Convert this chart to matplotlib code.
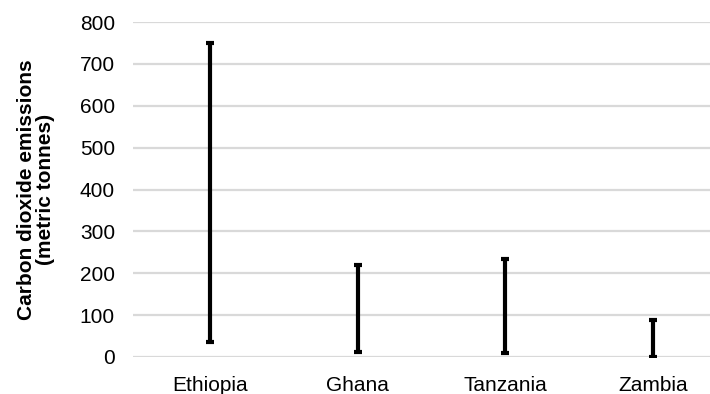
import matplotlib
matplotlib.use("Agg")
import matplotlib.pyplot as plt
import numpy as np

plt.rcParams['font.family'] = ['Liberation Sans', 'DejaVu Sans']

countries = ["Ethiopia", "Ghana", "Tanzania", "Zambia"]
emissions_min = [37, 11, 10, 1]
emissions_max = [750, 220, 233, 88]
y_ticks = [0, 100, 200, 300, 400, 500, 600, 700, 800]

W, H = 710, 394
fig = plt.figure(figsize=(W / 100, H / 100), dpi=100)
ax = fig.add_axes([133 / W, 1 - 357 / H, (W - 133) / W, 335 / H])

x = np.arange(len(countries))
lows = np.array(emissions_min, dtype=float)
highs = np.array(emissions_max, dtype=float)

ax.errorbar(x, lows, yerr=[np.zeros_like(lows), highs - lows], fmt='none',
            ecolor='black', elinewidth=3.0, capsize=3.2, capthick=3, zorder=3)

ax.set_ylim(0, 800)
ax.set_yticks(y_ticks)
ax.set_xlim(-0.521, 3.385)
ax.set_xticks(x)
ax.set_xticklabels(countries)

ax.grid(axis='y', color='#d9d9d9', linewidth=1.6, zorder=0)
ax.set_axisbelow(True)
for s in ax.spines.values():
    s.set_visible(False)
ax.tick_params(axis='both', length=0, labelsize=15, colors='black')
ax.tick_params(axis='y', pad=13)
ax.tick_params(axis='x', pad=14)

ax.set_ylabel("Carbon dioxide emissions\n(metric tonnes)", fontsize=15,
              fontweight='bold', linespacing=1.0)
ax.yaxis.set_label_coords(-0.135, 0.5)

fig.savefig("out.png", dpi=100)
